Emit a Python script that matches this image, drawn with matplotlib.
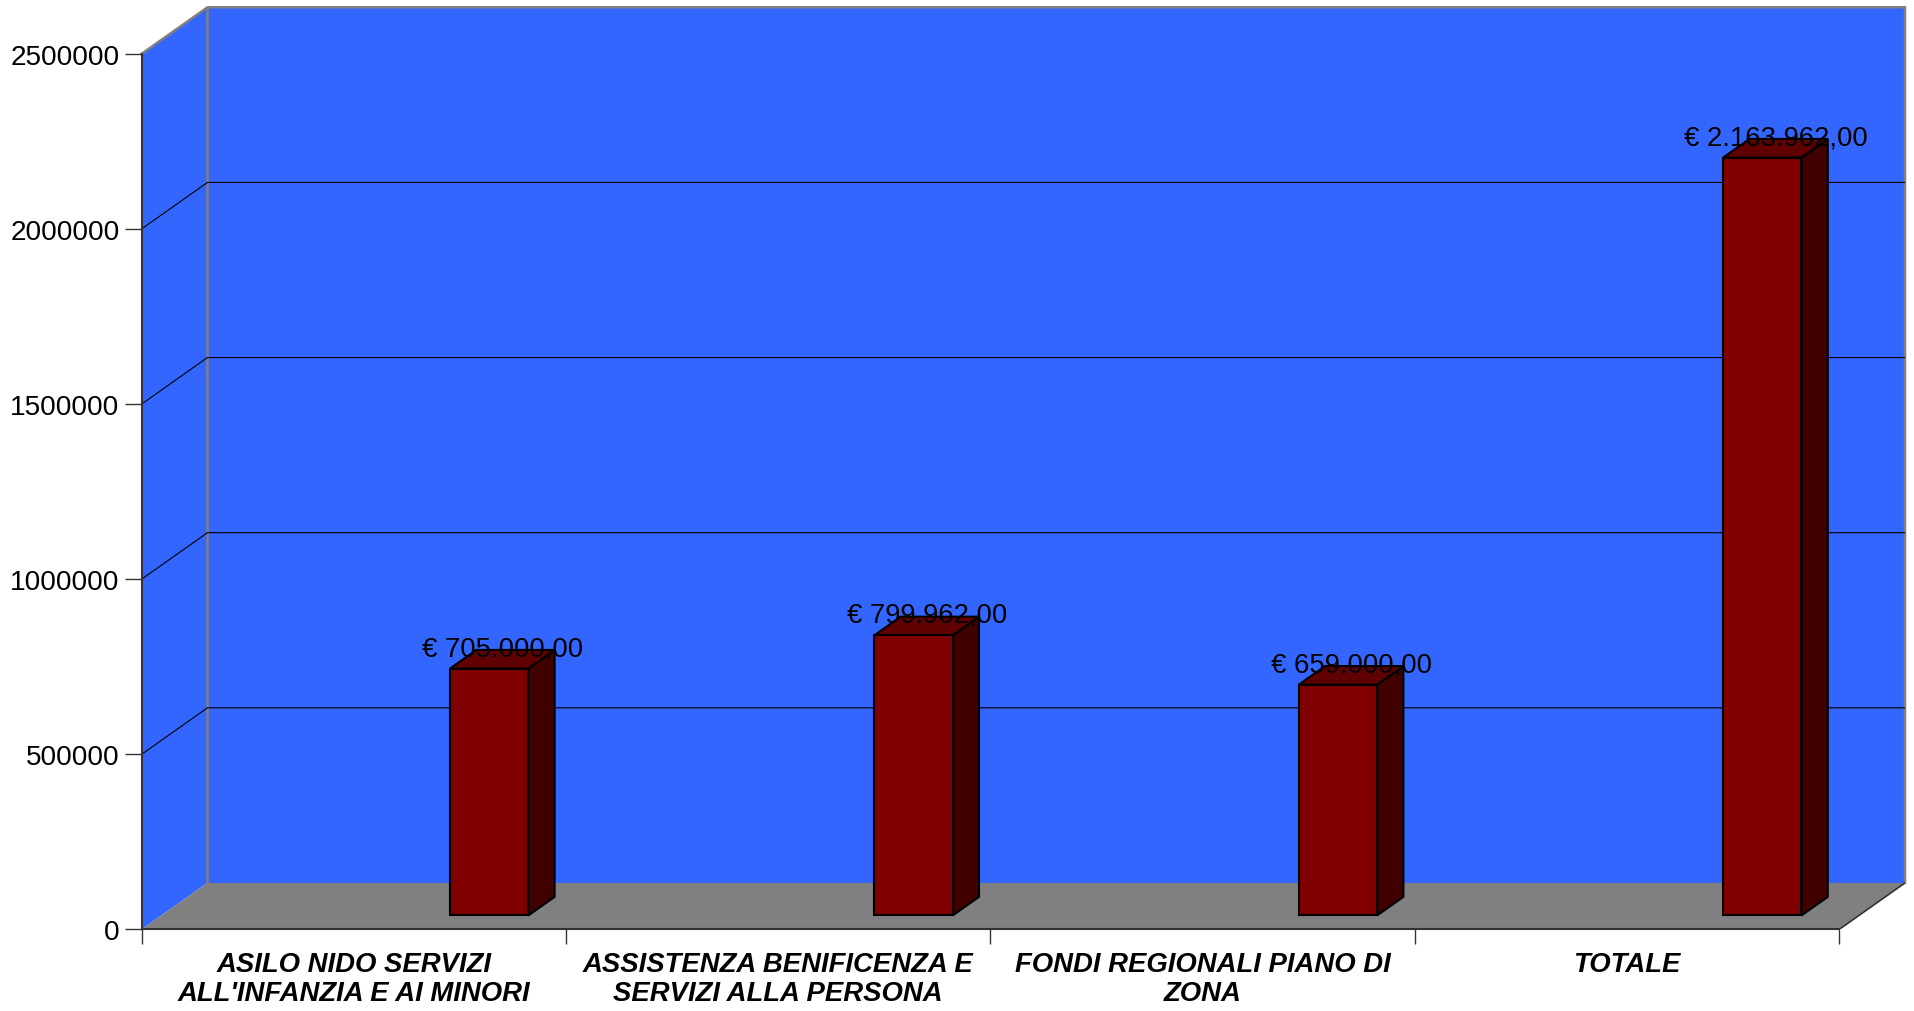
import matplotlib
matplotlib.use("Agg")
import matplotlib.pyplot as plt
from matplotlib.patches import Polygon

plt.rcParams["font.family"] = ["Liberation Sans", "DejaVu Sans"]

# ---- data ----
categories = [
    "ASILO NIDO SERVIZI\nALL'INFANZIA E AI MINORI",
    "ASSISTENZA BENIFICENZA E\nSERVIZI ALLA PERSONA",
    "FONDI REGIONALI PIANO DI\nZONA",
    "TOTALE",
]
values = [705000, 799962, 659000, 2163962]
y_ticks = [0, 500000, 1000000, 1500000, 2000000, 2500000]
y_tick_labels = ["0", "500000", "1000000", "1500000", "2000000", "2500000"]

# ---- styling ----
WALL = "#3366FF"
FLOOR = "#808080"
EDGE_GRAY = "#808080"
AXIS = "#333333"
BAR_FRONT = "#800000"
BAR_SIDE = "#400000"
BAR_TOP = "#600000"

N = len(categories)
YMAX = y_ticks[-1]
DX, DY = 0.155, 132700          # depth of the 3-D box in data units
BAR_X = 0.680                    # bar position inside each category slot
BAR_W = 0.1845
D0, D1 = 0.30, 0.70              # bar front / back depth fraction
LABEL_BASELINES = (29.7, 50.6)   # category label baselines, points below the axis


def at(x, y, d):
    """Point (x, y) pushed back by depth fraction d."""
    return (x + d * DX, y + d * DY)


def euro(v):
    s = f"{v:,.2f}".replace(",", "X").replace(".", ",").replace("X", ".")
    return "\u20ac " + s


fig = plt.figure(figsize=(19.15, 10.12), dpi=100)
ax = fig.add_axes([0.07399, 0.08063, 0.92079, 0.91117])
ax.set_xlim(0, N + DX)
ax.set_ylim(0, YMAX + DY)
ax.patch.set_visible(False)

# walls and floor
ax.add_patch(Polygon([(DX, DY), (N + DX, DY), (N + DX, YMAX + DY), (DX, YMAX + DY)],
                     closed=True, fc=WALL, ec="none", zorder=0))
ax.add_patch(Polygon([(0, 0), (DX, DY), (DX, YMAX + DY), (0, YMAX)],
                     closed=True, fc=WALL, ec="none", zorder=0))
ax.add_patch(Polygon([(0, 0), (DX, DY), (N + DX, DY), (N, 0)],
                     closed=True, fc=FLOOR, ec="none", zorder=0))

# wall outlines
ax.plot([0, DX, N + DX, N + DX], [YMAX, YMAX + DY, YMAX + DY, DY],
        color=EDGE_GRAY, lw=1.8, clip_on=False, zorder=1, solid_joinstyle="miter")
ax.plot([DX, DX], [DY, YMAX + DY], color=EDGE_GRAY, lw=1.8, zorder=1)
ax.plot([N, N + DX], [0, DY], color=AXIS, lw=1.2, zorder=1)

# gridlines on side wall and back wall
for v in y_ticks[1:-1]:
    ax.plot([0, DX, N + DX], [v, v + DY, v + DY], color="black", lw=0.8, zorder=1)

# bars
for i, v in enumerate(values):
    x0 = i + BAR_X
    x1 = x0 + BAR_W
    front = [at(x0, 0, D0), at(x1, 0, D0), at(x1, v, D0), at(x0, v, D0)]
    side = [at(x1, 0, D0), at(x1, 0, D1), at(x1, v, D1), at(x1, v, D0)]
    top = [at(x0, v, D0), at(x1, v, D0), at(x1, v, D1), at(x0, v, D1)]
    for pts, col in ((side, BAR_SIDE), (top, BAR_TOP), (front, BAR_FRONT)):
        ax.add_patch(Polygon(pts, closed=True, fc=col, ec="black", lw=1.5,
                             joinstyle="miter", zorder=3))
    ax.annotate(euro(v), xy=at((x0 + x1) / 2, v, 0.5), xytext=(0, 3),
                textcoords="offset points", ha="center", va="baseline",
                fontsize=19.8, color="black", zorder=5)

# axes
for s in ("top", "right"):
    ax.spines[s].set_visible(False)
ax.spines["left"].set_bounds(0, YMAX)
ax.spines["bottom"].set_bounds(0, N)
for s in ("left", "bottom"):
    ax.spines[s].set_color(AXIS)
    ax.spines[s].set_linewidth(1.5)
    ax.spines[s].set_zorder(2)

ax.set_yticks(y_ticks)
ax.set_yticklabels(y_tick_labels)
ax.tick_params(axis="y", length=12, width=1, color=AXIS, pad=4, labelsize=20.2)

ax.set_xticks(range(N + 1))
ax.set_xticklabels([])
ax.tick_params(axis="x", which="major", length=11, width=1, color=AXIS, direction="out")

# category labels, one text per line, centred under each slot
for i, name in enumerate(categories):
    for line, off in zip(name.split("\n"), LABEL_BASELINES):
        ax.annotate(line, xy=(i + 0.5, 0), xycoords="data",
                    xytext=(0, -off), textcoords="offset points",
                    ha="center", va="baseline", fontsize=19.8,
                    fontweight="bold", fontstyle="italic", annotation_clip=False)

fig.savefig("out.png", dpi=100)
